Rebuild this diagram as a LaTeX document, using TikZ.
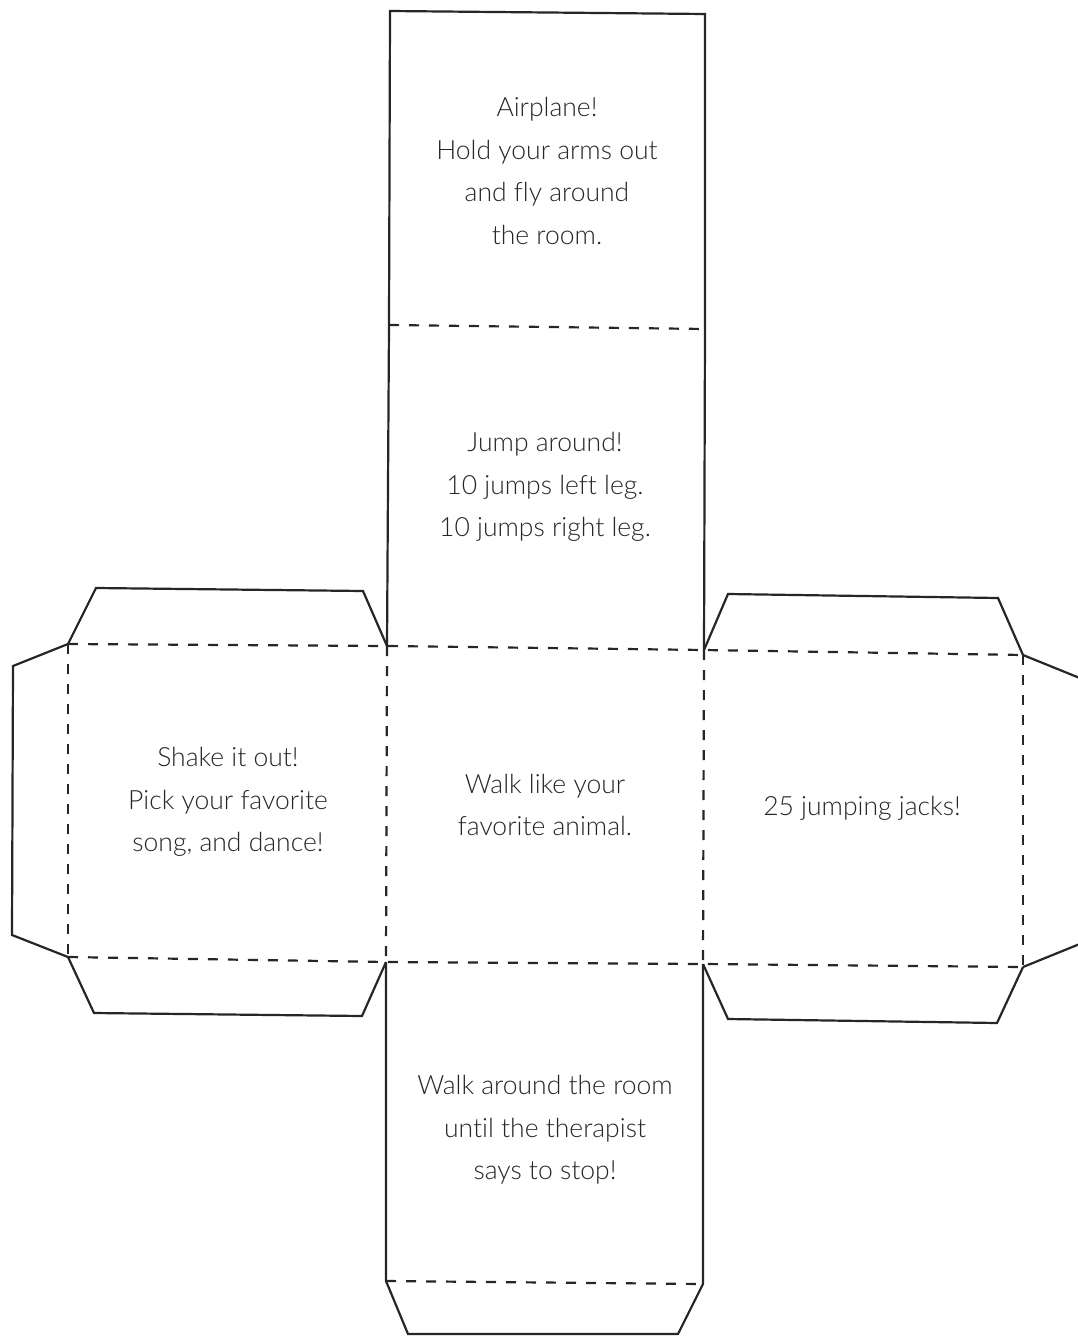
\documentclass[tikz,border=0pt]{standalone}
\usepackage{fontspec}
\setmainfont{Lato Light}[Ligatures={NoCommon}]
\begin{document}
\begin{tikzpicture}[x=1pt,y=-1pt,
  cut/.style={line width=2.2pt,line join=miter,black!85},
  fold/.style={line width=2.2pt,dash pattern=on 10pt off 10pt,black!85},
  label/.style={align=center,font=\fontsize{26.5}{42.5}\selectfont,text=black!85}]
\useasboundingbox[fill=white] (0,0) rectangle (1078,1338);
\clip (0,0) rectangle (1078,1338);
% central column
\coordinate (A1) at (390,11);   \coordinate (A2) at (705,14);
\coordinate (C1) at (389,325);  \coordinate (C2) at (705,329);
\coordinate (D1) at (387,646);  \coordinate (D2) at (704,650);
\coordinate (E1) at (386,962);  \coordinate (E2) at (703,964);
\coordinate (F1) at (386,1281); \coordinate (F2) at (703,1284);
\coordinate (G1) at (408,1334); \coordinate (G2) at (678,1334);
% left flap
\coordinate (L1) at (68,644);   \coordinate (L4) at (68,957);
\coordinate (LT1) at (96,588);  \coordinate (LT2) at (363,591);
\coordinate (LB1) at (94,1013); \coordinate (LB2) at (362,1016);
\coordinate (LS1) at (13,666);  \coordinate (LS2) at (12,935);
% right flap
\coordinate (R1) at (1023,655); \coordinate (R4) at (1023,967);
\coordinate (RT1) at (728,594); \coordinate (RT2) at (998,598);
\coordinate (RB1) at (728,1019);\coordinate (RB2) at (997,1023);
\coordinate (RS1) at (1092,683);\coordinate (RS2) at (1092,939);
% cut lines
\draw[cut] (D1) -- (C1) -- (A1) -- (A2) -- (C2) -- (D2);
\draw[cut] (E1) -- (F1) -- (G1) -- (G2) -- (F2) -- (E2);
\draw[cut] (L1) -- (LT1) -- (LT2) -- (D1);
\draw[cut] (L1) -- (LS1) -- (LS2) -- (L4);
\draw[cut] (L4) -- (LB1) -- (LB2) -- (E1);
\draw[cut] (D2) -- (RT1) -- (RT2) -- (R1);
\draw[cut] (R1) -- (RS1) -- (RS2) -- (R4);
\draw[cut] (E2) -- (RB1) -- (RB2) -- (R4);
% fold lines
\draw[fold] (C1) -- (C2);
\draw[fold] (L1) -- (D1) -- (D2) -- (R1);
\draw[fold] (L4) -- (E1) -- (E2) -- (R4);
\draw[fold] (F1) -- (F2);
\draw[fold] (L1) -- (L4);
\draw[fold] (D1) -- (E1);
\draw[fold] (D2) -- (E2);
\draw[fold] (R1) -- (R4);
% texts
\node[label] (top) at (547,171) {Airplane!\\Hold your arms out\\and fly around\\the room.};
\node[label] (jump) at (545,487) {Jump around!\\10 jumps left leg.\\10 jumps right leg.};
\node[label] (walk) at (545,805) {Walk like your\\favorite animal.};
\node[label] (shake) at (228,802) {Shake it out!\\Pick your favorite\\song, and dance!};
\node[label] (jacks) at (862,808) {25 jumping jacks!};
\node[label] (room) at (545,1130) {Walk around the room\\until the therapist\\says to stop!};
\end{tikzpicture}
\end{document}
